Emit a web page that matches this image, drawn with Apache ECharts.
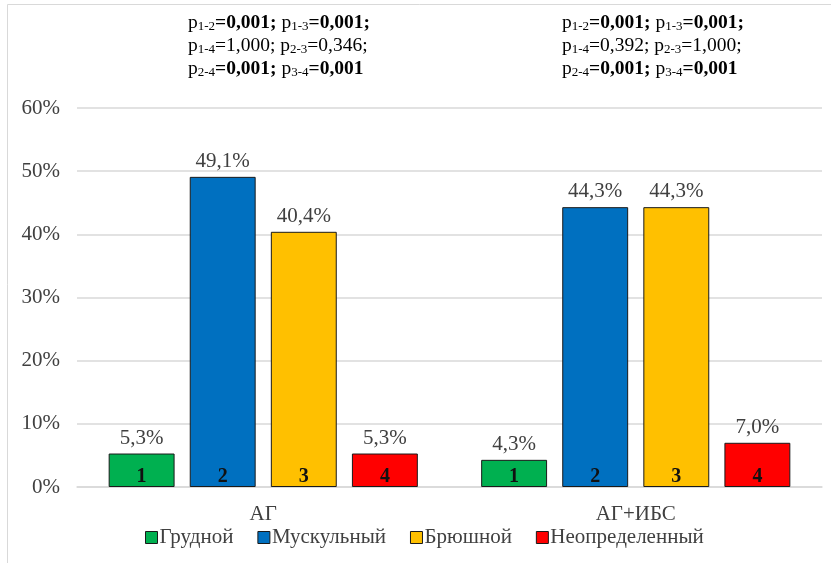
<!DOCTYPE html>
<html><head><meta charset="utf-8">
<script src="https://cdn.jsdelivr.net/npm/echarts@6/dist/echarts.min.js"></script>
<style>html,body{margin:0;padding:0;background:#fff}#c{width:831px;height:563px}</style>
</head><body><div id="c"></div>
<script>
const categories = ['АГ', 'АГ+ИБС'];
const seriesNames = ['Грудной', 'Мускульный', 'Брюшной', 'Неопределенный'];
const grudnoy = [5.3, 4.3];
const muskulny = [49.1, 44.3];
const bryushnoy = [40.4, 44.3];
const neopredelenny = [5.3, 7.0];
const barNumbers = ['1', '2', '3', '4'];
const yTicks = [0, 10, 20, 30, 40, 50, 60];
const pLeft = [
  [['p','1-2','=','0,001;',true],[' p','1-3','=','0,001;',true]],
  [['p','1-4','=','1,000;',false],[' p','2-3','=','0,346;',false]],
  [['p','2-4','=','0,001;',true],[' p','3-4','=','0,001',true]]
];
const pRight = [
  [['p','1-2','=','0,001;',true],[' p','1-3','=','0,001;',true]],
  [['p','1-4','=','0,392;',false],[' p','2-3','=','1,000;',false]],
  [['p','2-4','=','0,001;',true],[' p','3-4','=','0,001',true]]
];

const colors = ['#00b050', '#0070c0', '#ffc000', '#ff0000'];
const values = [grudnoy, muskulny, bryushnoy, neopredelenny];
const FONT = '"Liberation Serif", "Times New Roman", serif';
const fmt = v => v.toFixed(1).replace('.', ',') + '%';

function richLines(lines) {
  return lines.map(line => line.map(seg => {
    const eqVal = seg[4] ? '{b|' + seg[2] + seg[3] + '}' : '{n|' + seg[2] + seg[3] + '}';
    return '{n|' + seg[0] + '}{s|' + seg[1] + '}' + eqVal;
  }).join('')).join('\n');
}
const rich = {
  n: {fontFamily: FONT, fontSize: 19.5, color: '#1a1a1a', lineHeight: 23},
  b: {fontFamily: FONT, fontSize: 19.5, fontWeight: 'bold', color: '#1a1a1a', lineHeight: 23},
  s: {fontFamily: FONT, fontSize: 13, color: '#1a1a1a', lineHeight: 23, padding: [7, 0, 0, 0]}
};

const grid = {left: 77, right: 9, top: 108, bottom: 76};
const barCategoryGap = '17%';
const barGap = '23%';

const series = [];
values.forEach((vals, i) => {
  series.push({
    name: seriesNames[i], type: 'bar', data: vals,
    barCategoryGap, barGap,
    itemStyle: {color: colors[i], borderColor: '#1a1a1a', borderWidth: 1},
    label: {show: true, position: 'top', distance: 5, formatter: p => fmt(p.value),
      fontFamily: FONT, fontSize: 21, color: '#404040'}
  });
});
values.forEach((vals, i) => {
  series.push({
    name: 'n' + barNumbers[i], type: 'bar', data: vals, xAxisIndex: 1,
    barCategoryGap, barGap, silent: true,
    itemStyle: {color: 'rgba(0,0,0,0)'},
    label: {show: true, position: 'insideBottom', distance: 0, formatter: barNumbers[i],
      fontFamily: FONT, fontSize: 20, fontWeight: 'bold', color: '#111'}
  });
});

const chart = echarts.init(document.getElementById('c'));
chart.setOption({
  animation: false,
  backgroundColor: '#fff',
  grid,
  legend: {
    data: seriesNames, bottom: 10, left: 140, itemWidth: 12, itemHeight: 12, itemGap: 24,
    icon: 'rect',
    itemStyle: {borderColor: '#1a1a1a', borderWidth: 1},
    textStyle: {fontFamily: FONT, fontSize: 21, color: '#404040', padding: [0, 0, 0, -3]}
  },
  xAxis: [{
    type: 'category', data: categories,
    axisLine: {lineStyle: {color: '#d9d9d9', width: 1.5}},
    axisTick: {show: false},
    axisLabel: {fontFamily: FONT, fontSize: 21, color: '#404040', margin: 17}
  }, {
    type: 'category', data: categories, show: false
  }],
  yAxis: {
    type: 'value', min: 0, max: 60, interval: 10,
    axisLabel: {fontFamily: FONT, fontSize: 21, color: '#404040', margin: 17,
      formatter: v => yTicks.includes(v) ? v + '%' : ''},
    splitLine: {lineStyle: {color: '#d9d9d9', width: 1.5}},
    axisLine: {show: false}, axisTick: {show: false}
  },
  graphic: [
    {type: 'rect', left: 5, top: 2, shape: {width: 840, height: 580},
      style: {fill: 'none', stroke: '#d9d9d9', lineWidth: 1}, silent: true},
    {type: 'text', left: 188, top: 13, style: {text: richLines(pLeft), rich, textAlign: 'left'}},
    {type: 'text', left: 562, top: 13, style: {text: richLines(pRight), rich, textAlign: 'left'}}
  ],
  series
});
</script></body></html>
